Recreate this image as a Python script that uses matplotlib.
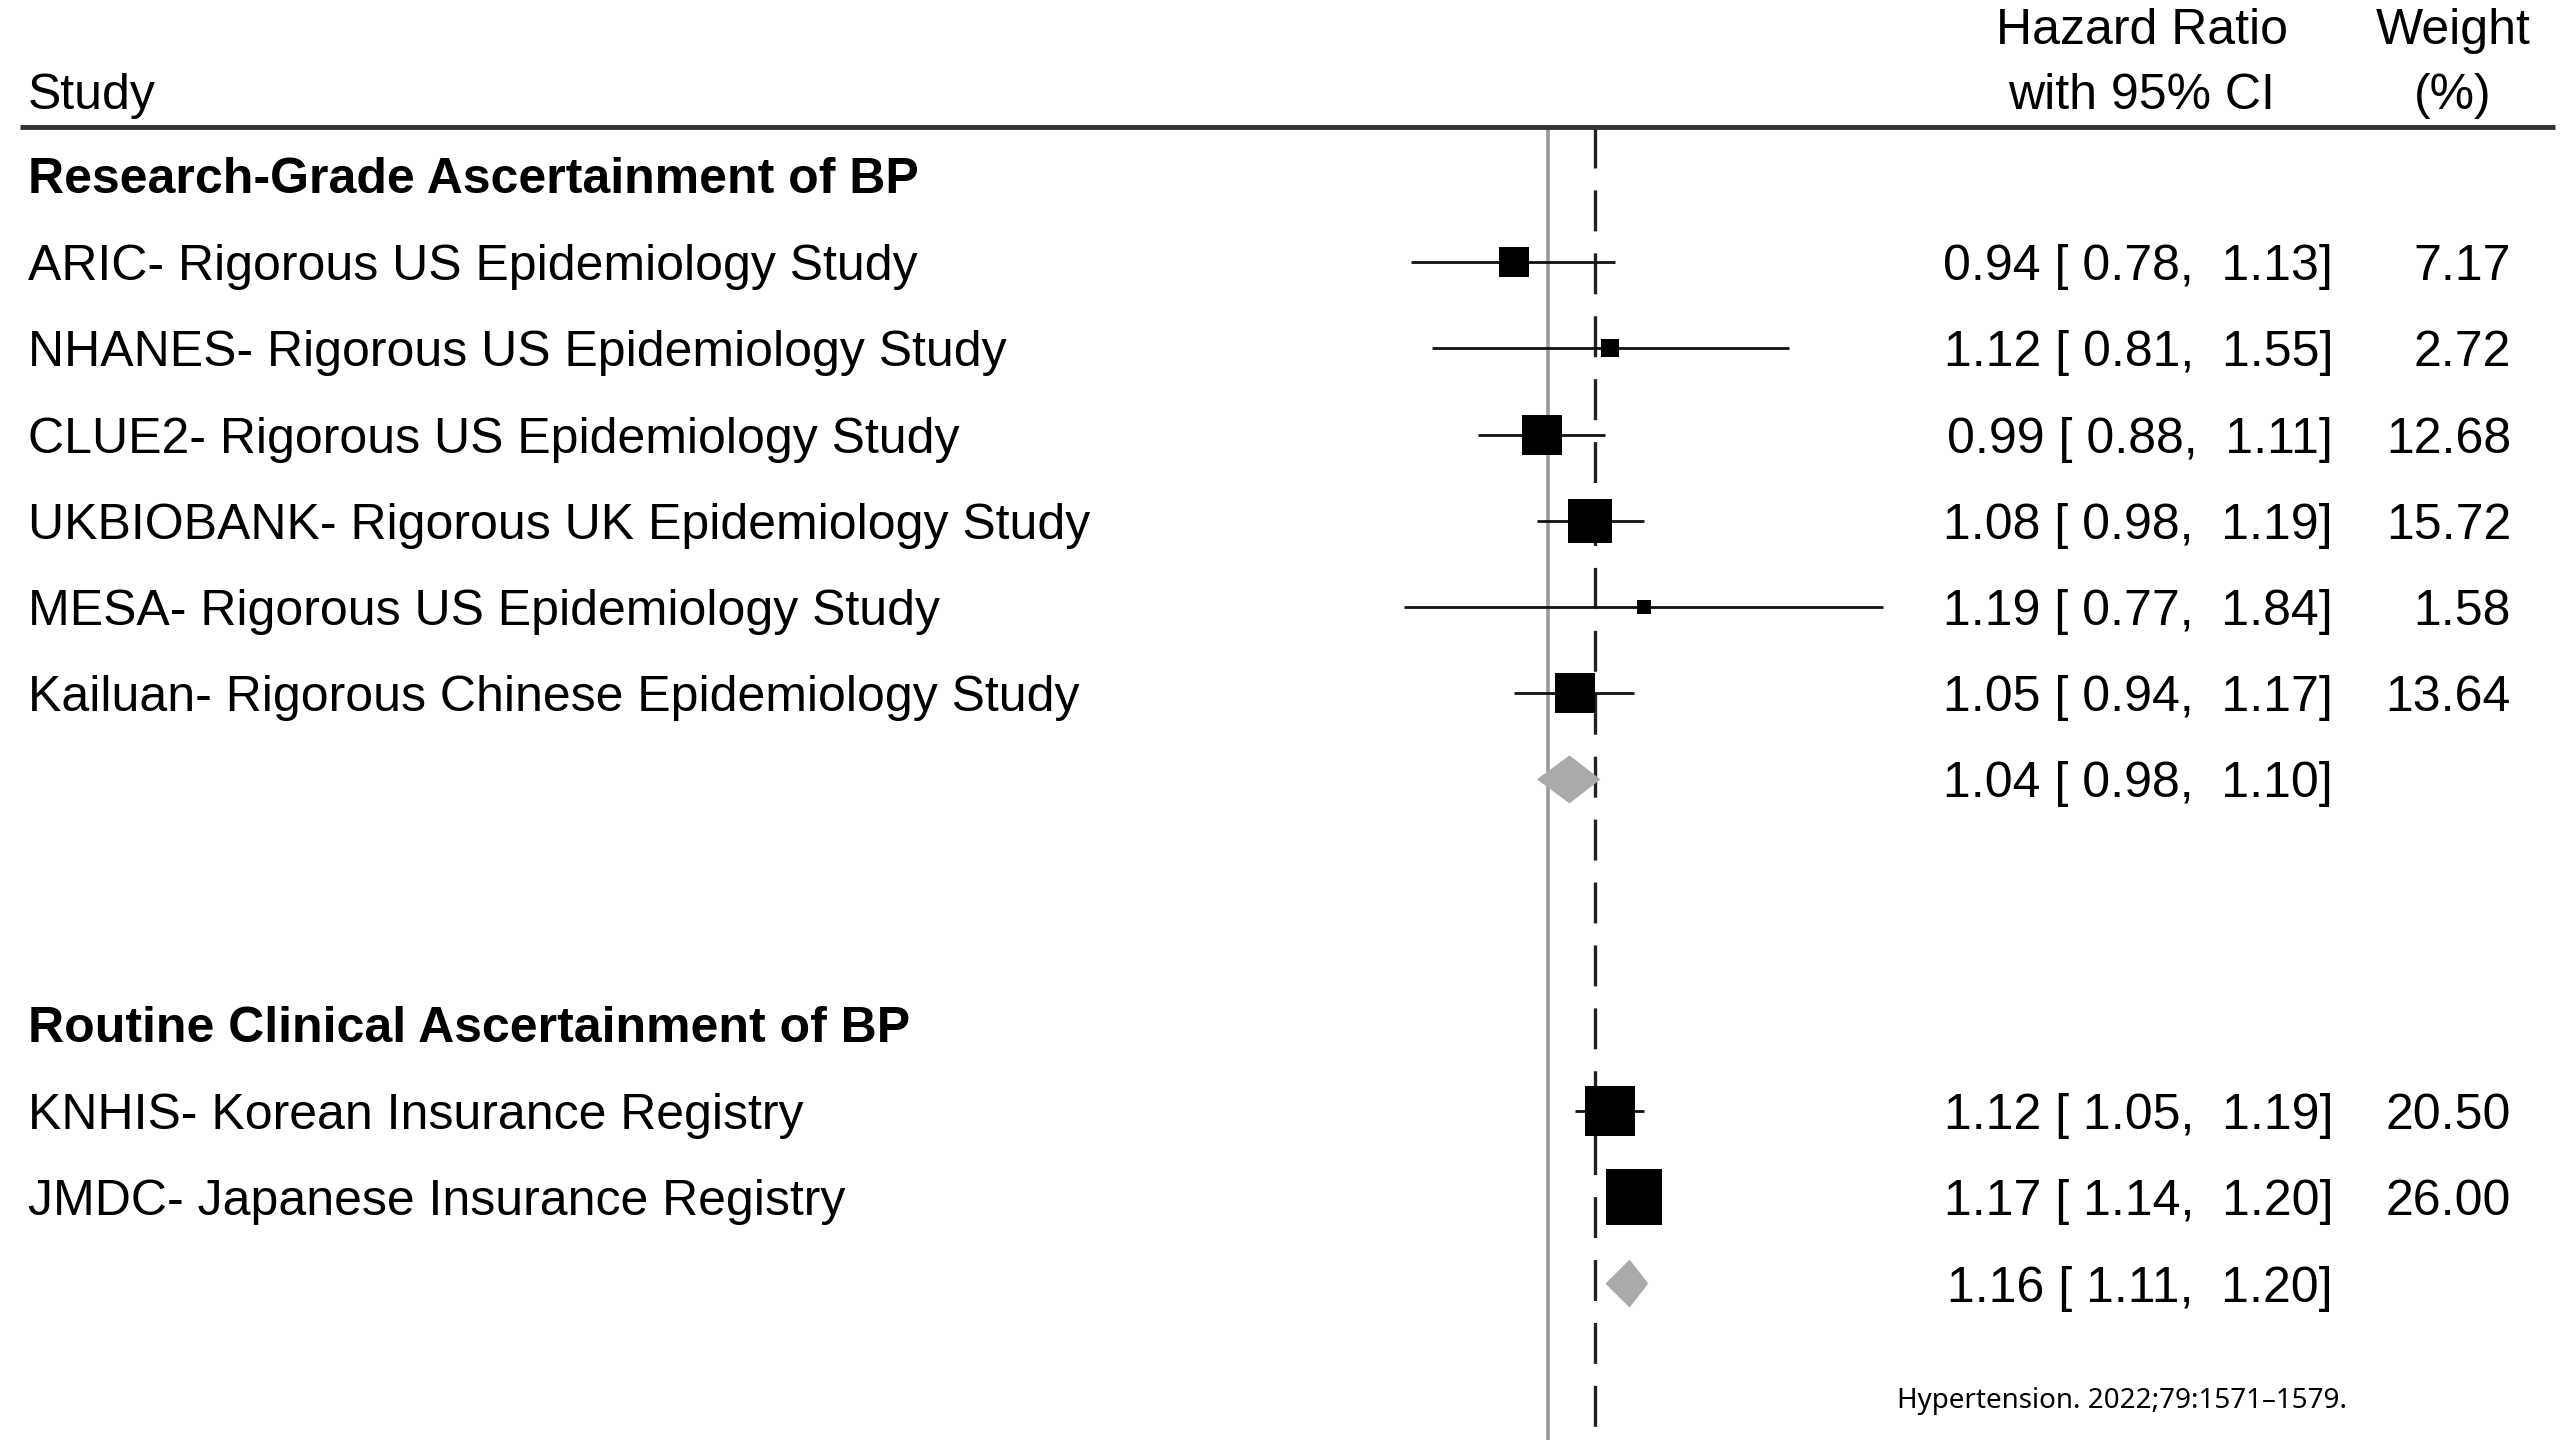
import numpy as np
import matplotlib
matplotlib.use("Agg")
from matplotlib import pyplot as plt
from matplotlib.patches import Polygon

plt.rcParams['font.family'] = ['Liberation Sans', 'DejaVu Sans']

# study-level estimates
groups = ["Research-Grade Ascertainment of BP", "Routine Clinical Ascertainment of BP"]
studies = [
    "ARIC- Rigorous US Epidemiology Study",
    "NHANES- Rigorous US Epidemiology Study",
    "CLUE2- Rigorous US Epidemiology Study",
    "UKBIOBANK- Rigorous UK Epidemiology Study",
    "MESA- Rigorous US Epidemiology Study",
    "Kailuan- Rigorous Chinese Epidemiology Study",
    "KNHIS- Korean Insurance Registry",
    "JMDC- Japanese Insurance Registry",
]
study_group = [0, 0, 0, 0, 0, 0, 1, 1]
hr = [0.94, 1.12, 0.99, 1.08, 1.19, 1.05, 1.12, 1.17]
lo = [0.78, 0.81, 0.88, 0.98, 0.77, 0.94, 1.05, 1.14]
hi = [1.13, 1.55, 1.11, 1.19, 1.84, 1.17, 1.19, 1.20]
weight = [7.17, 2.72, 12.68, 15.72, 1.58, 13.64, 20.50, 26.00]

# subgroup pooled estimates
pooled_hr = [1.04, 1.16]
pooled_lo = [0.98, 1.11]
pooled_hi = [1.10, 1.20]
overall_hr = 1.09

W, H = 2560, 1440
fig = plt.figure(figsize=(W / 100, H / 100), dpi=100)

# log axis for the forest marks, sized so HR=1 sits at x=1548 px
ax = fig.add_axes([0, 0, 1, 1])
ax.set_xscale('log')
px_per_log = 550.0
x_one = 1548.0
ax.set_xlim(np.exp(-x_one / px_per_log), np.exp((W - x_one) / px_per_log))
ax.set_ylim(H, 0)
ax.axis('off')

# pixel axis for the text columns
tx = fig.add_axes([0, 0, 1, 1])
tx.set_xlim(0, W)
tx.set_ylim(H, 0)
tx.axis('off')
tx.patch.set_alpha(0)

fs = 36
rule_y = 127
group_top = [176, 1025]
step = 86.2

# header
tx.text(2142, 44, "Hazard Ratio", ha='center', va='baseline', fontsize=fs)
tx.text(2142, 109, "with 95% CI", ha='center', va='baseline', fontsize=fs)
tx.text(2453, 44, "Weight", ha='center', va='baseline', fontsize=fs)
tx.text(2453, 109, "(%)", ha='center', va='baseline', fontsize=fs)
tx.text(28, 109, "Study", ha='left', va='baseline', fontsize=fs)
tx.plot([20, 2555], [rule_y, rule_y], color='#333333', lw=3.5, solid_capstyle='butt')

# reference lines: null effect and overall estimate
ax.plot([1, 1], [rule_y, H], color='#999999', lw=2.6)
dash_lw = 2.4
ax.plot([overall_hr, overall_hr], [rule_y, H], color='#222222', lw=dash_lw,
        linestyle=(0, (29.5 / dash_lw, 15.8 / dash_lw)))

for g, name in enumerate(groups):
    top = group_top[g]
    tx.text(28, top + 17, name, ha='left', va='baseline', fontsize=fs, fontweight='bold')
    idx = [i for i, s in enumerate(study_group) if s == g]
    for k, i in enumerate(idx):
        y = top + step * (k + 1)
        ax.plot([lo[i], hi[i]], [y, y], color='#111111', lw=2, solid_capstyle='butt')
        ax.plot(hr[i], y, marker='s', color='black', mew=0,
                markersize=7.92 * np.sqrt(weight[i]))
        tx.text(28, y + 18, studies[i], ha='left', va='baseline', fontsize=fs)
        tx.text(2333, y + 18, f"{hr[i]:.2f} [{lo[i]:5.2f}, {hi[i]:5.2f}]",
                ha='right', va='baseline', fontsize=fs)
        tx.text(2511, y + 18, f"{weight[i]:.2f}", ha='right', va='baseline', fontsize=fs)
    y = top + step * (len(idx) + 1)
    half = 24
    diamond = Polygon([(pooled_lo[g], y), (pooled_hr[g], y - half),
                       (pooled_hi[g], y), (pooled_hr[g], y + half)],
                      closed=True, facecolor='#aaaaaa', edgecolor='none', zorder=3)
    ax.add_patch(diamond)
    tx.text(2333, y + 18, f"{pooled_hr[g]:.2f} [{pooled_lo[g]:5.2f}, {pooled_hi[g]:5.2f}]",
            ha='right', va='baseline', fontsize=fs)

tx.text(1897, 1408, "Hypertension. 2022;79:1571\u20131579.", ha='left', va='baseline',
        fontsize=20, family=['Noto Sans', 'DejaVu Sans'])

fig.savefig("out.png", dpi=100)
